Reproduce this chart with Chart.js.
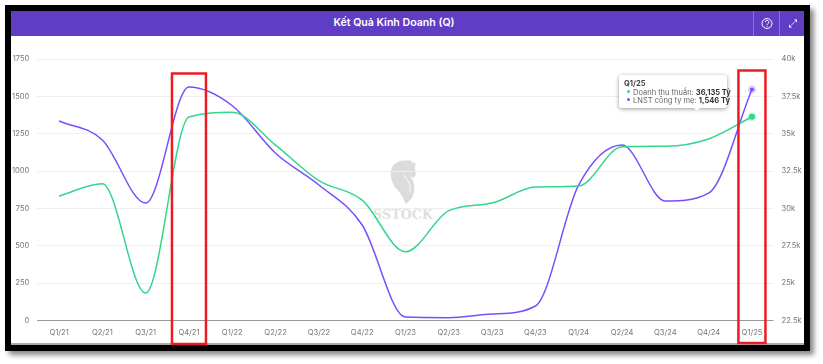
<!DOCTYPE html>
<html lang="vi">
<head>
<meta charset="utf-8">
<title>Kết Quả Kinh Doanh (Q)</title>
<script src="https://cdn.jsdelivr.net/npm/chart.js@4"></script>
<style>
    html, body { margin: 0; padding: 0; background: #fff; overflow: hidden; font-family: Inter, sans-serif; }
    #frame { position: absolute; left: 5px; top: 5px; width: 805px; height: 346px; box-sizing: border-box;
        border: 6px solid #000; box-shadow: 4px 4px 5px #8a8a8a; background: #fff; }
    #frame .bottom { position: absolute; left: 0; right: 0; bottom: 0; height: 2px; background: #aaa; }
    #header { position: absolute; left: 0; top: 0; right: 0; height: 25px; background: #5f3dc4; color: #fff;
        font-size: 10.6px; font-weight: 600; line-height: 24px; text-align: center; padding-right: 27px; box-sizing: border-box; }
    .sep { position: absolute; top: 0; width: 1px; height: 25px; background: rgba(255,255,255,0.28); }
    .icon { position: absolute; top: 0; }
    #mark { position: absolute; left: 0; top: 0; }
    #markText { position: absolute; left: 372px; top: 207px; width: 62px; text-align: center; font: bold 12.5px "DejaVu Serif", serif;
        color: #e0e0e0; letter-spacing: 0.2px; }
    canvas { position: absolute; left: 0; top: 0; }
    #tip { position: absolute; left: 619px; top: 75px; width: 108px; height: 33px; box-sizing: border-box; background: #fff;
        border-radius: 3px; box-shadow: 0 1px 4px rgba(0,0,0,0.4); font-size: 7.5px; color: #666; padding: 3.5px 0 0 5px; line-height: 8px; white-space: nowrap; }
    #tip .t { font-weight: 700; color: #444; margin-bottom: 1px; line-height: 9px; }
    #tip b { color: #333; font-weight: 700; }
    #tip i { display: inline-block; width: 3px; height: 3px; border-radius: 50%; margin: 0 3px 1px 3px; vertical-align: middle; }
    #tip:after { content: ""; position: absolute; left: 75px; top: 33px; border: 3.5px solid transparent; border-top-color: #fff; border-bottom: 0; }
</style>
</head>
<body>
<div id="frame">
    <div id="header">Kết Quả Kinh Doanh (Q)
        <div class="sep" style="left:742px"></div>
        <div class="sep" style="left:768px"></div>
        <svg class="icon" style="left:748px" width="16" height="25" viewBox="0 0 16 25">
            <circle cx="8" cy="12.5" r="5" fill="none" stroke="#fff" stroke-width="1"/>
            <path d="M6.3 11.2 a1.8 1.8 0 1 1 2.6 1.6 q-0.9 0.4 -0.9 1.2" fill="none" stroke="#fff" stroke-width="0.9"/>
            <circle cx="8" cy="15.3" r="0.6" fill="#fff"/>
        </svg>
        <svg class="icon" style="left:775px" width="14" height="25" viewBox="0 0 14 25">
            <path d="M8 8.5 H11 V11.5 Z M3 13.5 V16.5 H6 Z" fill="#fff"/>
            <path d="M9 10.5 L5 14.5" stroke="#fff" stroke-width="0.8"/>
        </svg>
    </div>
    <div class="bottom"></div>
</div>
<svg id="mark" width="823" height="364" viewBox="0 0 823 364">
    <path d="M416 163 L413 164 L414 161 L411 162.5 L411 160.5 L402 160.5 Q391 163 390.5 173 Q391 183 397 190 Q403 196 405.5 204 Q415 198 414.5 187 Q414 180 410 176 L414 178 L416 174 Q414 168 416 163 Z" fill="#dcdcdc"/>
    <path d="M395 188 Q402 194 404 203" fill="none" stroke="#fff" stroke-width="1"/>
    <path d="M403 175 Q411 181 410 192" fill="none" stroke="#fff" stroke-width="0.8"/>
</svg>
<div id="markText">SSTOCK</div>
<canvas id="myChart" width="823" height="364"></canvas>
<div id="tip"></div>
<script>
const categories = ['Q1/21', 'Q2/21', 'Q3/21', 'Q4/21', 'Q1/22', 'Q2/22', 'Q3/22', 'Q4/22', 'Q1/23', 'Q2/23', 'Q3/23', 'Q4/23', 'Q1/24', 'Q2/24', 'Q3/24', 'Q4/24', 'Q1/25'];
const doanhThu = [30830, 31650, 24340, 36120, 36430, 34240, 31860, 30560, 27100, 29850, 30360, 31430, 31500, 34130, 34160, 34650, 36135];
const lnst = [1335, 1208, 786, 1562, 1437, 1119, 907, 639, 23, 19, 43, 97, 907, 1174, 800, 853, 1546];
const highlights = [
    { label: 'Q4/21', width: 34, top: 73.5, bottom: 344 },
    { label: 'Q1/25', width: 27, top: 70.5, bottom: 343 }
];
const GREEN = '#34d58c';
const PURPLE = '#7c4dff';

const redBoxes = {
    id: 'redBoxes',
    afterDraw(chart) {
        const c = chart.ctx;
        c.save();
        c.strokeStyle = '#ec1c24';
        c.lineWidth = 2.5;
        highlights.forEach(h => {
            const x = chart.scales.x.getPixelForValue(categories.indexOf(h.label));
            c.strokeRect(x - h.width / 2, h.top, h.width, h.bottom - h.top);
        });
        c.restore();
    }
};

function drawTip(context) {
    const t = context.tooltip;
    if (!t.body) return;
    let html = '<div class="t">' + t.title[0] + '</div>';
    t.dataPoints.forEach(p => {
        html += '<div><i style="background:' + p.dataset.borderColor + '"></i>' + p.dataset.label + ': <b>' +
            p.raw.toLocaleString('en-US') + ' Tỷ</b></div>';
    });
    document.getElementById('tip').innerHTML = html;
}

const ctx = document.getElementById('myChart');

const myChart = new Chart(ctx, {
    type: 'line',
    data: {
        labels: categories,
        datasets: [{
            label: 'Doanh thu thuần',
            data: doanhThu,
            yAxisID: 'y1',
            borderColor: GREEN,
            borderWidth: 1.5,
            cubicInterpolationMode: 'monotone',
            pointRadius: 0,
            pointHoverRadius: 3,
            pointHoverBackgroundColor: GREEN,
            pointHoverBorderColor: 'rgba(52, 213, 140, 0.25)',
            pointHoverBorderWidth: 3
        }, {
            label: 'LNST công ty mẹ',
            data: lnst,
            yAxisID: 'y',
            borderColor: PURPLE,
            borderWidth: 1.5,
            cubicInterpolationMode: 'monotone',
            pointRadius: 0,
            pointHoverRadius: 2,
            pointHoverBackgroundColor: PURPLE,
            pointHoverBorderColor: 'rgba(124, 77, 255, 0.25)',
            pointHoverBorderWidth: 4
        }]
    },
    options: {
        responsive: false,
        animation: false,
        events: [],
        layout: { padding: { top: 59 } },
        font: { family: 'Inter' },
        plugins: {
            legend: { display: false },
            tooltip: { enabled: false, external: drawTip, mode: 'index', intersect: false }
        },
        scales: {
            x: {
                offset: true,
                afterFit(scale) { scale.height = 43.5; },
                grid: { display: false, drawTicks: false },
                border: { display: false },
                ticks: { color: '#777', font: { family: 'Inter', size: 7.6 }, padding: 8, maxRotation: 0, autoSkip: false }
            },
            y: {
                position: 'left',
                min: 0,
                max: 1750,
                afterFit(scale) { scale.width = 37.4; },
                grid: {
                    drawTicks: false,
                    color: c => c.tick.value === 0 ? '#999' : '#efefef'
                },
                border: { display: false },
                ticks: { stepSize: 250, color: '#777', font: { family: 'Inter', size: 7.6 }, padding: 8, callback: v => String(v) }
            },
            y1: {
                position: 'right',
                min: 22500,
                max: 40000,
                afterFit(scale) { scale.width = 49.4; },
                grid: { display: false, drawTicks: false },
                border: { display: false },
                ticks: { stepSize: 2500, color: '#777', font: { family: 'Inter', size: 7.6 }, padding: 8, callback: v => (v / 1000) + 'k' }
            }
        }
    },
    plugins: [redBoxes]
});

const last = categories.length - 1;
const active = [{ datasetIndex: 0, index: last }, { datasetIndex: 1, index: last }];
myChart.setActiveElements(active);
myChart.tooltip.setActiveElements(active, { x: 0, y: 0 });
myChart.update();
</script>
</body>
</html>
